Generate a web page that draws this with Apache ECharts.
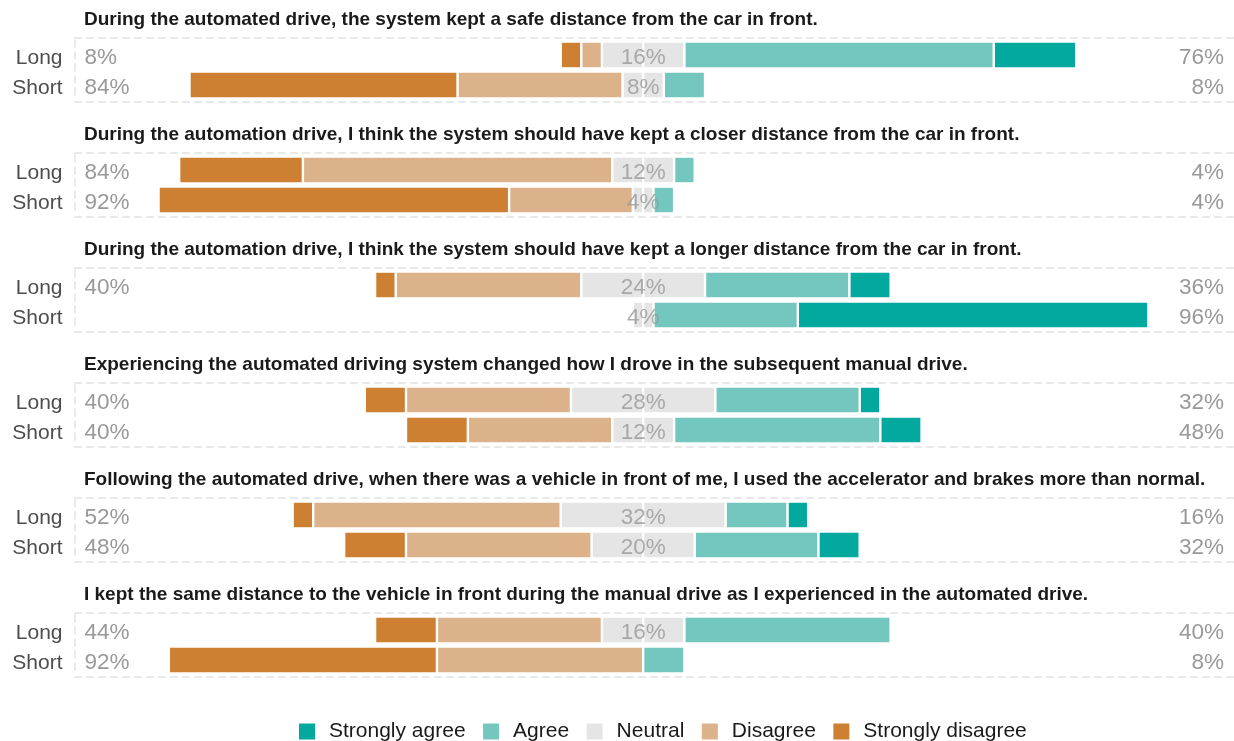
<!DOCTYPE html>
<html>
<head>
<meta charset="utf-8">
<script src="https://cdn.jsdelivr.net/npm/echarts@6/dist/echarts.min.js"></script>
<style>
html,body{margin:0;padding:0;background:#fff;}
#chart{width:1234px;height:741px;}
</style>
</head>
<body>
<div id="chart"></div>
<script>
// ---------- DATA ----------
const questions = [
  'During the automated drive, the system kept a safe distance from the car in front.',
  'During the automation drive, I think the system should have kept a closer distance from the car in front.',
  'During the automation drive, I think the system should have kept a longer distance from the car in front.',
  'Experiencing the automated driving system changed how I drove in the subsequent manual drive.',
  'Following the automated drive, when there was a vehicle in front of me, I used the accelerator and brakes more than normal.',
  'I kept the same distance to the vehicle in front during the manual drive as I experienced in the automated drive.'
];
const groups = ['Long', 'Short'];
const legendOrder = ['Strongly agree', 'Agree', 'Neutral', 'Disagree', 'Strongly disagree'];
// values in % per question: [Long, Short]
const stronglyDisagree = [[4, 52], [24, 68], [4, 0], [8, 12], [4, 12], [12, 52]];
const disagree         = [[4, 32], [60, 24], [36, 0], [32, 28], [48, 36], [32, 40]];
const neutral          = [[16, 8], [12, 4], [24, 4], [28, 12], [32, 20], [16, 0]];
const agree            = [[60, 8], [4, 4], [28, 28], [28, 40], [12, 24], [40, 8]];
const stronglyAgree    = [[16, 0], [0, 0], [8, 68], [4, 8], [4, 8], [0, 0]];

// ---------- STYLE / LAYOUT ----------
const FONT = 'Liberation Sans, Arial, Helvetica, sans-serif';
const COLORS = {
  'Strongly agree': '#03a89e',
  'Agree': '#74c7bf',
  'Neutral': '#e5e5e5',
  'Disagree': '#dbb28a',
  'Strongly disagree': '#cd7f32'
};
const LABEL_GRAY = '#999999';
const AX_MIN = -110.3, AX_MAX = 114.6;
const PANEL_STEP = 115, GRID_TOP0 = 40, GRID_H = 60, GRID_LEFT = 74.5;
// nudges text ~3px below the band centre (like the reference)
const SHIFT = { verticalAlign: 'top', lineHeight: 6 };
const dashLine = { show: true, lineStyle: { color: '#e2e2e2', width: 1.5, type: [7, 5] } };

const pct = v => (v > 0 ? v + '%' : '');

const grid = [], xAxis = [], yAxis = [], series = [], title = [];

questions.forEach((q, p) => {
  const top = GRID_TOP0 + PANEL_STEP * p;
  grid.push({ left: GRID_LEFT, right: 0, top: top, height: GRID_H, containLabel: false });
  title.push({
    text: q, left: 84, top: top - 32, padding: 0,
    textStyle: { fontFamily: FONT, fontSize: 19, fontWeight: 'bold', color: '#1a1a1a', lineHeight: 24 }
  });
  const hidden = { axisLabel: { show: false }, axisTick: { show: false }, splitLine: { show: false } };
  xAxis.push(Object.assign({ type: 'value', gridIndex: p, min: AX_MIN, max: AX_MAX, position: 'bottom', offset: 2,
    axisLine: Object.assign({ onZero: false }, dashLine) }, hidden));
  xAxis.push(Object.assign({ type: 'value', gridIndex: p, min: AX_MIN, max: AX_MAX, position: 'top', offset: 2,
    axisLine: Object.assign({ onZero: false }, dashLine) }, hidden));

  const lows = groups.map((g, i) => stronglyDisagree[p][i] + disagree[p][i]);
  const highs = groups.map((g, i) => agree[p][i] + stronglyAgree[p][i]);

  yAxis.push({ type: 'category', gridIndex: p, data: groups, inverse: true, position: 'left',
    axisLine: Object.assign({ onZero: false }, dashLine), axisTick: { show: false },
    axisLabel: Object.assign({ fontFamily: FONT, fontSize: 21, color: '#4d4d4d', margin: 12 }, SHIFT) });
  yAxis.push({ type: 'category', gridIndex: p, data: groups, inverse: true, position: 'left',
    axisLine: { show: false }, axisTick: { show: false },
    axisLabel: Object.assign({ inside: true, margin: 10, fontFamily: FONT, fontSize: 22.5, color: LABEL_GRAY,
      formatter: (v, i) => pct(lows[i]) }, SHIFT) });
  yAxis.push({ type: 'category', gridIndex: p, data: groups, inverse: true, position: 'right',
    axisLine: { show: false }, axisTick: { show: false },
    axisLabel: Object.assign({ inside: true, margin: 10, fontFamily: FONT, fontSize: 22.5, color: LABEL_GRAY,
      formatter: (v, i) => pct(highs[i]) }, SHIFT) });

  const base = { type: 'bar', stack: 'q' + p, xAxisIndex: 2 * p, yAxisIndex: 3 * p, barWidth: 27,
    stackStrategy: 'samesign' };
  const mk = (name, arr, sign) => Object.assign({}, base, {
    name: name,
    data: arr.map(v => sign * v),
    itemStyle: { color: COLORS[name], borderColor: '#ffffff', borderWidth: 1.2 }
  });
  series.push(mk('Neutral', neutral[p], -0.5));
  series.push(mk('Disagree', disagree[p], -1));
  series.push(mk('Strongly disagree', stronglyDisagree[p], -1));
  series.push(mk('Neutral', neutral[p], 0.5));
  series.push(mk('Agree', agree[p], 1));
  series.push(mk('Strongly agree', stronglyAgree[p], 1));
  series.push({
    type: 'scatter', xAxisIndex: 2 * p, yAxisIndex: 3 * p, symbolSize: 0, silent: true,
    data: groups.map((g, i) => ({ value: [0, i], label: { show: neutral[p][i] > 0 } })),
    label: Object.assign({ position: 'inside', align: 'center', fontFamily: FONT, fontSize: 22.5, color: LABEL_GRAY,
      formatter: params => pct(neutral[p][params.dataIndex]) }, SHIFT)
  });
});

const chart = echarts.init(document.getElementById('chart'), null, { renderer: 'canvas' });
chart.setOption({
  animation: false,
  backgroundColor: '#ffffff',
  title: title,
  grid: grid,
  xAxis: xAxis,
  yAxis: yAxis,
  legend: {
    data: legendOrder, top: 716, left: 292, icon: 'rect',
    itemWidth: 18, itemHeight: 18, itemGap: 15.5,
    textStyle: { fontFamily: FONT, fontSize: 21, color: '#1a1a1a', padding: [0, 0, 0, 8] }
  },
  series: series
});
</script>
</body>
</html>
